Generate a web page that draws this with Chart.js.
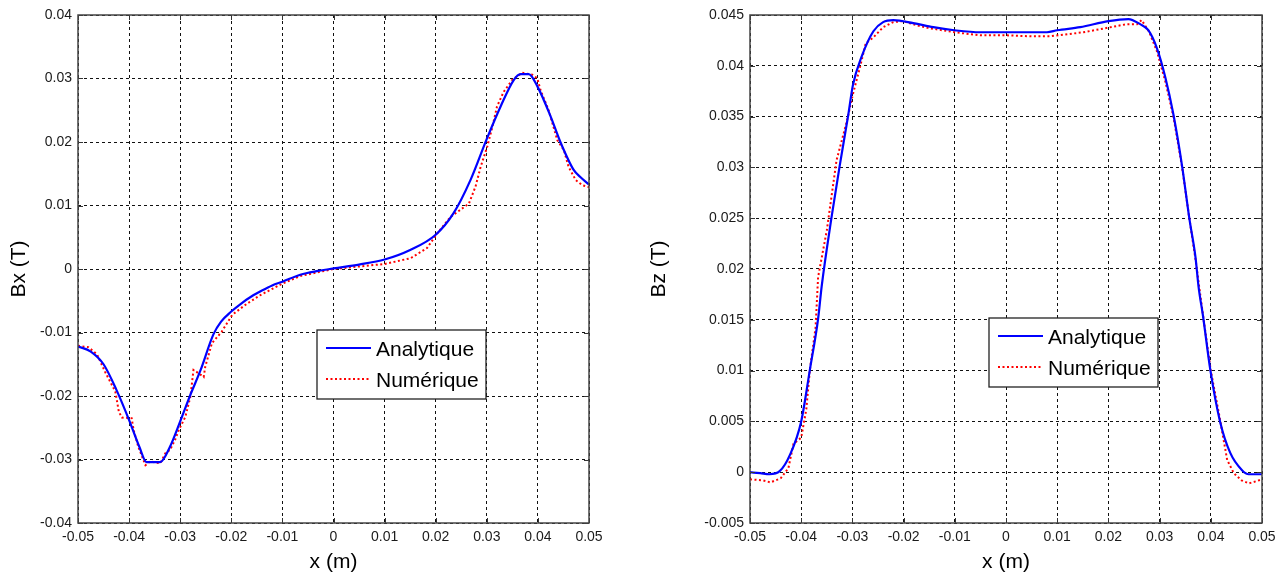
<!DOCTYPE html>
<html><head><meta charset="utf-8">
<script src="https://cdn.jsdelivr.net/npm/chart.js@4"></script>
<style>
html,body{margin:0;padding:0;background:#fff;}
#w{position:relative;width:1285px;height:577px;background:#fff;}
#c1{position:absolute;left:0;top:0;}
#c2{position:absolute;left:640px;top:0;}
</style></head><body>
<div id="w"><canvas id="c1"></canvas><canvas id="c2"></canvas></div>
<script>
// ---- tick labels ----
const xTicks = [-0.05,-0.04,-0.03,-0.02,-0.01,0,0.01,0.02,0.03,0.04,0.05];
const bxTicks = [-0.04,-0.03,-0.02,-0.01,0,0.01,0.02,0.03,0.04];
const bzTicks = [-0.005,0,0.005,0.01,0.015,0.02,0.025,0.03,0.035,0.04,0.045];
const seriesNames = ['Analytique','Numérique'];
const xTitle = 'x (m)';
const bxTitle = 'Bx (T)';
const bzTitle = 'Bz (T)';

// ---- Bx : analytic ----
const bxAnaX = [-0.05,-0.0475,-0.045,-0.0425,-0.040,-0.038,-0.0366,-0.0339,-0.032,-0.030,-0.028,-0.026,-0.0235,-0.022,-0.020,-0.018,-0.016,-0.014,-0.012,-0.010,-0.0065,-0.003,0,0.005,0.010,0.015,0.020,0.0235,0.0268,0.030,0.0327,0.0353,0.0366,0.0382,0.040,0.0425,0.0444,0.047,0.0483,0.050];
const bxAnaY = [-0.0122,-0.0130,-0.0150,-0.0190,-0.0238,-0.0280,-0.0304,-0.0304,-0.0280,-0.0240,-0.0198,-0.0159,-0.0103,-0.0083,-0.0067,-0.0054,-0.0043,-0.0034,-0.0026,-0.0020,-0.0009,-0.0003,0.0001,0.0007,0.0015,0.0030,0.0054,0.0088,0.0140,0.0205,0.0256,0.0298,0.0307,0.0307,0.0286,0.0240,0.0200,0.0156,0.0145,0.0133];
// ---- Bx : numeric ----
const bxNumX = [-0.050,-0.048,-0.0463,-0.0447,-0.0427,-0.0420,-0.0414,-0.0395,-0.0391,-0.0382,-0.0368,-0.0359,-0.0339,-0.0329,-0.0320,-0.0310,-0.0303,-0.0290,-0.0280,-0.0274,-0.0268,-0.0254,-0.0251,-0.0238,-0.0219,-0.0198,-0.0170,-0.0143,-0.0100,-0.0065,0,0.0050,0.0101,0.0151,0.0183,0.0203,0.0229,0.0265,0.0278,0.0288,0.0301,0.0311,0.0320,0.0333,0.0350,0.0369,0.0389,0.0399,0.0405,0.0421,0.0438,0.0451,0.0460,0.0474,0.0487,0.0500];
const bxNumY = [-0.0121,-0.0123,-0.0134,-0.0162,-0.0193,-0.0225,-0.0234,-0.0235,-0.0254,-0.0280,-0.0309,-0.0303,-0.0306,-0.0290,-0.0285,-0.0269,-0.0254,-0.0233,-0.0201,-0.0159,-0.0162,-0.0170,-0.0154,-0.0117,-0.0099,-0.0072,-0.0055,-0.0041,-0.0023,-0.0011,0,0.0004,0.0008,0.0017,0.0033,0.0056,0.0082,0.0103,0.0130,0.0161,0.0193,0.0224,0.0256,0.0279,0.0298,0.0309,0.0306,0.0300,0.0282,0.0250,0.0203,0.0187,0.0161,0.0140,0.0132,0.0129];

// ---- Bz : analytic ----
const bzAnaX = [-0.05,-0.048,-0.0462,-0.0442,-0.0422,-0.040,-0.0383,-0.0367,-0.036,-0.0341,-0.0325,-0.0308,-0.0299,-0.0282,-0.0259,-0.024,-0.022,-0.0181,-0.0142,-0.0101,-0.005,0,0.008,0.010,0.0145,0.020,0.0239,0.0262,0.0278,0.0295,0.0311,0.0327,0.0344,0.0358,0.037,0.0376,0.0385,0.0399,0.0418,0.0438,0.0461,0.0474,0.05];
const bzAnaY = [0,-0.0001,-0.0002,0.0001,0.0017,0.0050,0.0101,0.0151,0.0183,0.0250,0.0301,0.0352,0.0381,0.0409,0.0434,0.0443,0.0445,0.0442,0.0438,0.0435,0.0433,0.0433,0.0433,0.0435,0.0438,0.0444,0.0446,0.0441,0.0435,0.0417,0.0389,0.0352,0.0301,0.0250,0.0212,0.0183,0.0153,0.0101,0.0050,0.0019,0.0002,-0.0002,-0.0002];
// ---- Bz : numeric ----
const bzNumX = [-0.05,-0.0475,-0.046,-0.044,-0.0425,-0.0415,-0.0400,-0.0390,-0.0383,-0.0372,-0.0367,-0.0350,-0.0331,-0.0311,-0.0299,-0.0285,-0.0274,-0.0259,-0.024,-0.022,-0.0201,-0.0175,-0.0149,-0.010,-0.005,0,0.005,0.0086,0.0151,0.0194,0.0236,0.0256,0.0265,0.0280,0.0295,0.0311,0.0327,0.0344,0.0358,0.0370,0.0378,0.0386,0.0400,0.0418,0.0432,0.0445,0.046,0.0474,0.0488,0.050];
const bzNumY = [-0.0007,-0.0008,-0.0010,-0.0006,0.0004,0.0028,0.0034,0.0062,0.0101,0.0142,0.0192,0.0238,0.0307,0.0345,0.0372,0.0399,0.0422,0.0428,0.0438,0.0443,0.0444,0.0440,0.0437,0.0433,0.0430,0.0430,0.0429,0.0429,0.0433,0.0437,0.0441,0.0441,0.0445,0.0433,0.0414,0.0385,0.0350,0.0300,0.0250,0.0210,0.0180,0.0150,0.0100,0.0052,0.0012,-0.0001,-0.0008,-0.0011,-0.0009,-0.0007];

const FONT = "'Liberation Sans', Arial, sans-serif";
const fmt = v => String(+Number(v).toFixed(3));
const pts = (xs, ys) => xs.map((x,i)=>({x:x, y:ys[i]}));

const framePlugin = {
  id: 'frame',
  afterDraw(chart, args, opts) {
    const {ctx, chartArea: a, scales} = chart;
    ctx.save();
    ctx.setLineDash([]);
    ctx.strokeStyle = '#333';
    ctx.lineWidth = 1;
    const L = 5;
    scales.x.ticks.forEach(t => {
      const p = Math.round(scales.x.getPixelForValue(t.value)) + 0.5;
      ctx.beginPath();
      ctx.moveTo(p, a.bottom); ctx.lineTo(p, a.bottom - L);
      ctx.moveTo(p, a.top); ctx.lineTo(p, a.top + L);
      ctx.stroke();
    });
    scales.y.ticks.forEach(t => {
      const p = Math.round(scales.y.getPixelForValue(t.value)) + 0.5;
      ctx.beginPath();
      ctx.moveTo(a.left, p); ctx.lineTo(a.left + L, p);
      ctx.moveTo(a.right, p); ctx.lineTo(a.right - L, p);
      ctx.stroke();
    });
    ctx.strokeStyle = '#444';
    ctx.lineWidth = 1.5;
    ctx.strokeRect(a.left, a.top, a.width, a.height);
    // legend
    const bx = a.left + opts.dx, by = a.top + opts.dy, w = 169, h = 69;
    ctx.fillStyle = '#fff';
    ctx.fillRect(bx, by, w, h);
    ctx.strokeStyle = '#222';
    ctx.lineWidth = 1.3;
    ctx.strokeRect(bx, by, w, h);
    chart.data.datasets.forEach((d, i) => {
      const ry = by + 18 + i * 31;
      ctx.strokeStyle = d.borderColor;
      ctx.lineWidth = d.borderWidth;
      ctx.setLineDash(d.borderDash || []);
      ctx.beginPath();
      ctx.moveTo(bx + 9, ry); ctx.lineTo(bx + 54, ry);
      ctx.stroke();
      ctx.setLineDash([]);
      ctx.fillStyle = '#000';
      ctx.font = '21px ' + FONT;
      ctx.textBaseline = 'middle';
      ctx.textAlign = 'left';
      ctx.fillText(d.label, bx + 59, ry + 2);
    });
    ctx.restore();
  }
};

function makeChart(id, w, leftW, rightPad, yTicks, yMin, yMax, yTitle, ana, num, legendPos) {
  const cv = document.getElementById(id);
  cv.width = w; cv.height = 577;
  cv.style.width = w + 'px'; cv.style.height = '577px';
  return new Chart(cv, {
    type: 'line',
    data: {
      datasets: [
        {label: seriesNames[0], data: ana, borderColor: '#0000ff', borderWidth: 2.2, pointRadius: 0, cubicInterpolationMode: 'monotone', fill: false},
        {label: seriesNames[1], data: num, borderColor: '#ff0000', borderWidth: 2, borderDash: [2, 2.5], pointRadius: 0, tension: 0, fill: false}
      ]
    },
    options: {
      responsive: false,
      devicePixelRatio: 1,
      animation: false,
      events: [],
      layout: {padding: {top: 15, right: rightPad, left: 0, bottom: 0}},
      plugins: {legend: {display: false}, tooltip: {enabled: false}, frame: legendPos},
      scales: {
        x: {
          type: 'linear', min: -0.05, max: 0.05,
          afterBuildTicks: s => { s.ticks = xTicks.map(v => ({value: v})); },
          afterFit: s => { s.height = 54; },
          grid: {color: '#111', lineWidth: 1, drawTicks: false, borderDash: [3, 3]},
          border: {display: false, dash: [3, 3]},
          ticks: {autoSkip: false, maxRotation: 0, padding: 6, color: '#1a1a1a', font: {family: FONT, size: 14}, callback: fmt},
          title: {display: true, text: xTitle, color: '#000', font: {family: FONT, size: 21}, padding: {top: 0, bottom: 2}}
        },
        y: {
          type: 'linear', min: yMin, max: yMax,
          afterBuildTicks: s => { s.ticks = yTicks.map(v => ({value: v})); },
          afterFit: s => { s.width = leftW; },
          grid: {color: '#111', lineWidth: 1, drawTicks: false, borderDash: [3, 3]},
          border: {display: false, dash: [3, 3]},
          ticks: {autoSkip: false, padding: 6, color: '#1a1a1a', font: {family: FONT, size: 14}, callback: fmt},
          title: {display: true, text: yTitle, color: '#000', font: {family: FONT, size: 21}, padding: {top: 7, bottom: 0}}
        }
      }
    },
    plugins: [framePlugin]
  });
}

makeChart('c1', 640, 78, 51, bxTicks, -0.04, 0.04, bxTitle, pts(bxAnaX, bxAnaY), pts(bxNumX, bxNumY), {dx: 239, dy: 315});
makeChart('c2', 645, 110, 23, bzTicks, -0.005, 0.045, bzTitle, pts(bzAnaX, bzAnaY), pts(bzNumX, bzNumY), {dx: 239, dy: 303});
</script>
</body></html>
